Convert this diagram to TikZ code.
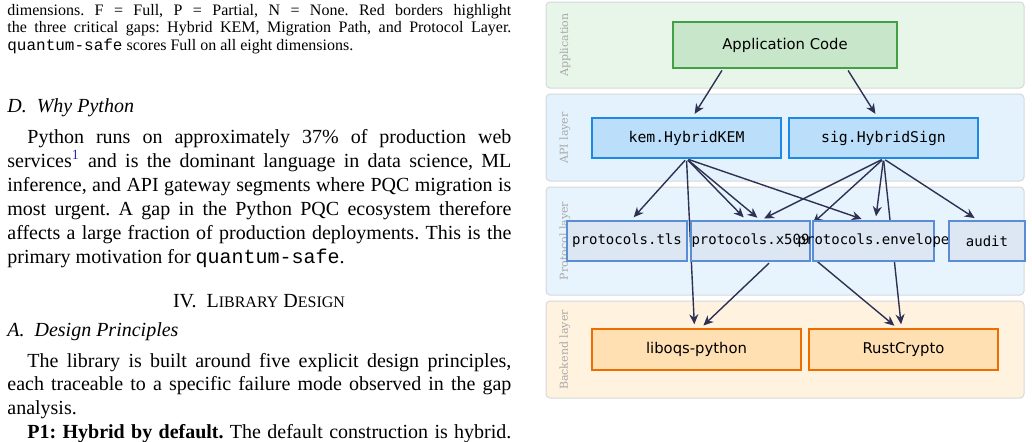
\documentclass[tikz,border=0pt]{standalone}
\usepackage{fontspec}
\setmainfont{Liberation Serif}
\setmonofont{Liberation Mono}
\newfontfamily\dsans{DejaVu Sans}
\newfontfamily\dmono{DejaVu Sans Mono}
\newfontfamily\dserif{DejaVu Serif}
\usepackage{tikz}
\usetikzlibrary{arrows.meta,positioning,calc}
\definecolor{arrowc}{HTML}{2E3152}
\definecolor{bandrule}{HTML}{D6D8DA}
\definecolor{appband}{HTML}{E8F5E9}
\definecolor{appfill}{HTML}{C8E6C9}
\definecolor{appdraw}{HTML}{43A047}
\definecolor{apiband}{HTML}{E3F2FD}
\definecolor{apifill}{HTML}{BBDEFB}
\definecolor{apidraw}{HTML}{1E88E5}
\definecolor{protoband}{HTML}{E8F4FD}
\definecolor{protofill}{HTML}{DCE7F3}
\definecolor{protodraw}{HTML}{5B8DD6}
\definecolor{backband}{HTML}{FFF3E0}
\definecolor{backfill}{HTML}{FFE0B2}
\definecolor{backdraw}{HTML}{EF6C00}
\definecolor{lbl}{HTML}{A8A8A8}
\definecolor{fnblue}{HTML}{2B2BB0}
\pgfdeclarelayer{bands}
\pgfdeclarelayer{edges}
\pgfsetlayers{bands,edges,main}
\newcommand\fixw[1]{\makebox[0pt]{#1}}
\hyphenpenalty=10000
\exhyphenpenalty=10000
\tolerance=10000
\frenchspacing

\begin{document}
\begin{tikzpicture}[x=0.5pt, y=-0.5pt,
    txt/.style={text width=252pt, align=justify, inner sep=0pt, anchor=base west},
    band/.style={draw=bandrule, line width=0.5pt, rounded corners=2pt},
    lyr/.style={rotate=90, inner sep=0pt, text=lbl, font=\dserif\fontsize{5.5}{6}\selectfont},
    blk/.style={draw, line width=0.75pt, inner sep=0pt, minimum height=20pt, font=\dsans\fontsize{7.4}{9}\selectfont},
    mod/.style={blk, font=\dmono\fontsize{7.4}{9}\selectfont},
    arr/.style={-{Stealth[length=5pt, width=4.5pt]}, line width=0.7pt, arrowc, shorten <=1pt, shorten >=2pt}]
  \useasboundingbox (0,0) rectangle (1032,441);

  % text column
  \node[txt, font=\fontsize{8}{8.75}\selectfont] (cap) at (7,15)
    {dimensions. F = Full, P = Partial, N = None. Red borders highlight\linebreak
     the three critical gaps: Hybrid KEM, Migration Path, and Protocol Layer.\linebreak
     \texttt{quantum-safe} scores Full on all eight dimensions.};
  \node[anchor=base west, inner sep=0pt, font=\fontsize{10}{12}\selectfont\itshape] (secd) at (7,112) {D.\ \ Why Python};
  \node[txt, font=\fontsize{10}{12.05}\selectfont] (para1) at (7,143)
    {\hspace*{1em}Python runs on approximately 37\% of production web\linebreak
     services{\color{fnblue}\textsuperscript{1}} and is the dominant language in data science, ML\linebreak
     inference, and API gateway segments where PQC migration is\linebreak
     most urgent. A gap in the Python PQC ecosystem therefore\linebreak
     affects a large fraction of production deployments. This is the\linebreak
     primary motivation for \texttt{quantum-safe}.};
  \node[anchor=base, inner sep=0pt, font=\fontsize{10}{12}\selectfont] (sec4) at (259,307)
    {IV.\ \ L{\fontsize{8}{10}\selectfont IBRARY} D{\fontsize{8}{10}\selectfont ESIGN}};
  \node[anchor=base west, inner sep=0pt, font=\fontsize{10}{12}\selectfont\itshape] (seca) at (7,336) {A.\ \ Design Principles};
  \node[txt, font=\fontsize{10}{11.9}\selectfont] (para2) at (7,367)
    {\hspace*{1em}The library is built around five explicit design principles,\linebreak
     each traceable to a specific failure mode observed in the gap\linebreak
     analysis.\par
     {\parfillskip=0pt \hspace*{1em}\textbf{P1: Hybrid by default.} The default construction is hybrid.\par}};

  % diagram
  \node[blk, fill=appfill, draw=appdraw, minimum width=112pt, minimum height=23pt] (app) at (785,45) {Application Code};
  \node[mod, fill=apifill, draw=apidraw, minimum width=94.5pt] (kem) at (686.5,138) {\fixw{kem.HybridKEM}};
  \node[mod, fill=apifill, draw=apidraw, minimum width=94.5pt] (sig) at (883.5,138) {\fixw{sig.HybridSign}};
  \node[mod, fill=protofill, draw=protodraw, minimum width=60pt, font=\dmono\fontsize{7}{9}\selectfont] (tls) at (627,241) {\fixw{protocols.tls}};
  \node[mod, fill=protofill, draw=protodraw, minimum width=59.5pt, font=\dmono\fontsize{7}{9}\selectfont] (x509) at (750.5,241) {\fixw{protocols.x509}};
  \node[mod, fill=protofill, draw=protodraw, minimum width=60.5pt, font=\dmono\fontsize{7}{9}\selectfont] (env) at (873.5,241) {\fixw{protocols.envelope}};
  \node[mod, fill=protofill, draw=protodraw, minimum width=38pt, font=\dmono\fontsize{7}{9}\selectfont] (audit) at (987,241) {\fixw{audit}};
  \node[blk, fill=backfill, draw=backdraw, minimum width=104.5pt, minimum height=20.5pt] (liboqs) at (696.5,349.5) {liboqs-python};
  \node[blk, fill=backfill, draw=backdraw, minimum width=94.5pt, minimum height=20.5pt] (rust) at (903.5,349.5) {RustCrypto};

  \begin{pgfonlayer}{bands}
    \draw[band, fill=appband] (546,2) rectangle (1024,88);
    \draw[band, fill=apiband] (546,94) rectangle (1024,181);
    \draw[band, fill=protoband] (546,187) rectangle (1024,295);
    \draw[band, fill=backband] (546,301) rectangle (1024,398);
    \node[lyr] (lapp) at (565,45) {Application};
    \node[lyr] (lapi) at (565,138) {API layer};
    \node[lyr] (lproto) at (565,241) {Protocol layer};
    \node[lyr] (lback) at (565,350) {Backend layer};
  \end{pgfonlayer}

  \begin{pgfonlayer}{edges}
    \draw[arr] ([xshift=-31pt]app.south) -- ([xshift=3pt]kem.north);
    \draw[arr] ([xshift=31pt]app.south) -- ([xshift=-3pt]sig.north);
    \foreach \dst/\dx in {tls/2pt, x509/-2pt, x509/5pt, env/-4pt, liboqs/-1pt}
      \draw[arr] (kem.south) -- ([xshift=\dx]\dst.north);
    \foreach \dst/\dx in {x509/5pt, env/1pt, audit/-4.5pt, rust/-1pt}
      \draw[arr] (sig.south) -- ([xshift=\dx]\dst.north);
    \draw[arr, shorten >=0pt] (sig.south) -- ([xshift=1pt, yshift=-1.5pt]x509.north east);
    \draw[arr] ([xshift=10pt]x509.south) -- ([xshift=2pt]liboqs.north);
    \draw[arr, shorten <=0pt] ([xshift=1pt, yshift=2pt]x509.south east) -- ([xshift=-3pt]rust.north);
  \end{pgfonlayer}
\end{tikzpicture}
\end{document}
